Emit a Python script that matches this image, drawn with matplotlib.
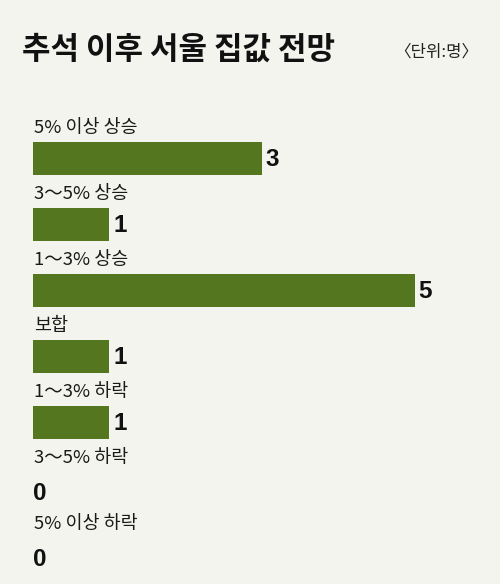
import matplotlib
matplotlib.use('Agg')
import matplotlib.pyplot as plt

plt.rcParams['font.family'] = ['Noto Sans CJK KR', 'DejaVu Sans']

# Data
categories = ['5% 이상 상승', '3～5% 상승', '1～3% 상승', '보합', '1～3% 하락', '3～5% 하락', '5% 이상 하락']
counts = [3, 1, 5, 1, 1, 0, 0]

bg = '#f4f4ef'
bar_color = '#54761f'

W, H = 500, 584
fig = plt.figure(figsize=(W / 100, H / 100), dpi=100)
fig.patch.set_facecolor(bg)

# axes laid out in pixels: x=0 at 33px, 76.3px per unit; row pitch 66px
left_px, unit_px = 33, 76.3
top_px, pitch = 100, 66
first_center = 158.5
ax = fig.add_axes([left_px / W, 0, (W - left_px) / W, (H - top_px) / H])
ax.set_facecolor(bg)
ax.set_xlim(0, (W - left_px) / unit_px)
y_top = -(first_center - top_px) / pitch
y_bot = (H - first_center) / pitch
ax.set_ylim(y_bot, y_top)
ax.axis('off')

ypos = list(range(len(categories)))
ax.barh(ypos, counts, height=0.5, color=bar_color, edgecolor='none')

num_font = ['Liberation Sans Narrow', 'Liberation Sans', 'DejaVu Sans']
for i, (cat, v) in enumerate(zip(categories, counts)):
    ax.text(0.01, i - 0.46, cat, ha='left', va='center', fontsize=13.3,
            color='#1a1a1a')
    if v > 0:
        ax.text(v + 0.05, i + 0.02, str(v), ha='left', va='center', fontsize=17.5,
                fontweight='bold', family=num_font, color='#111111')
    else:
        ax.text(0.0, i + 0.08, str(v), ha='left', va='center', fontsize=17.5,
                fontweight='bold', family=num_font, color='#111111')

fig.text(22 / W, 1 - 50 / H, '추석 이후 서울 집값 전망', ha='left', va='center',
         fontsize=22.3, fontweight='bold', color='#111111')
fig.text(478 / W, 1 - 52 / H, '〈단위:명〉', ha='right', va='center',
         fontsize=12, color='#222222')

fig.savefig('out.png', dpi=100, facecolor=bg)
